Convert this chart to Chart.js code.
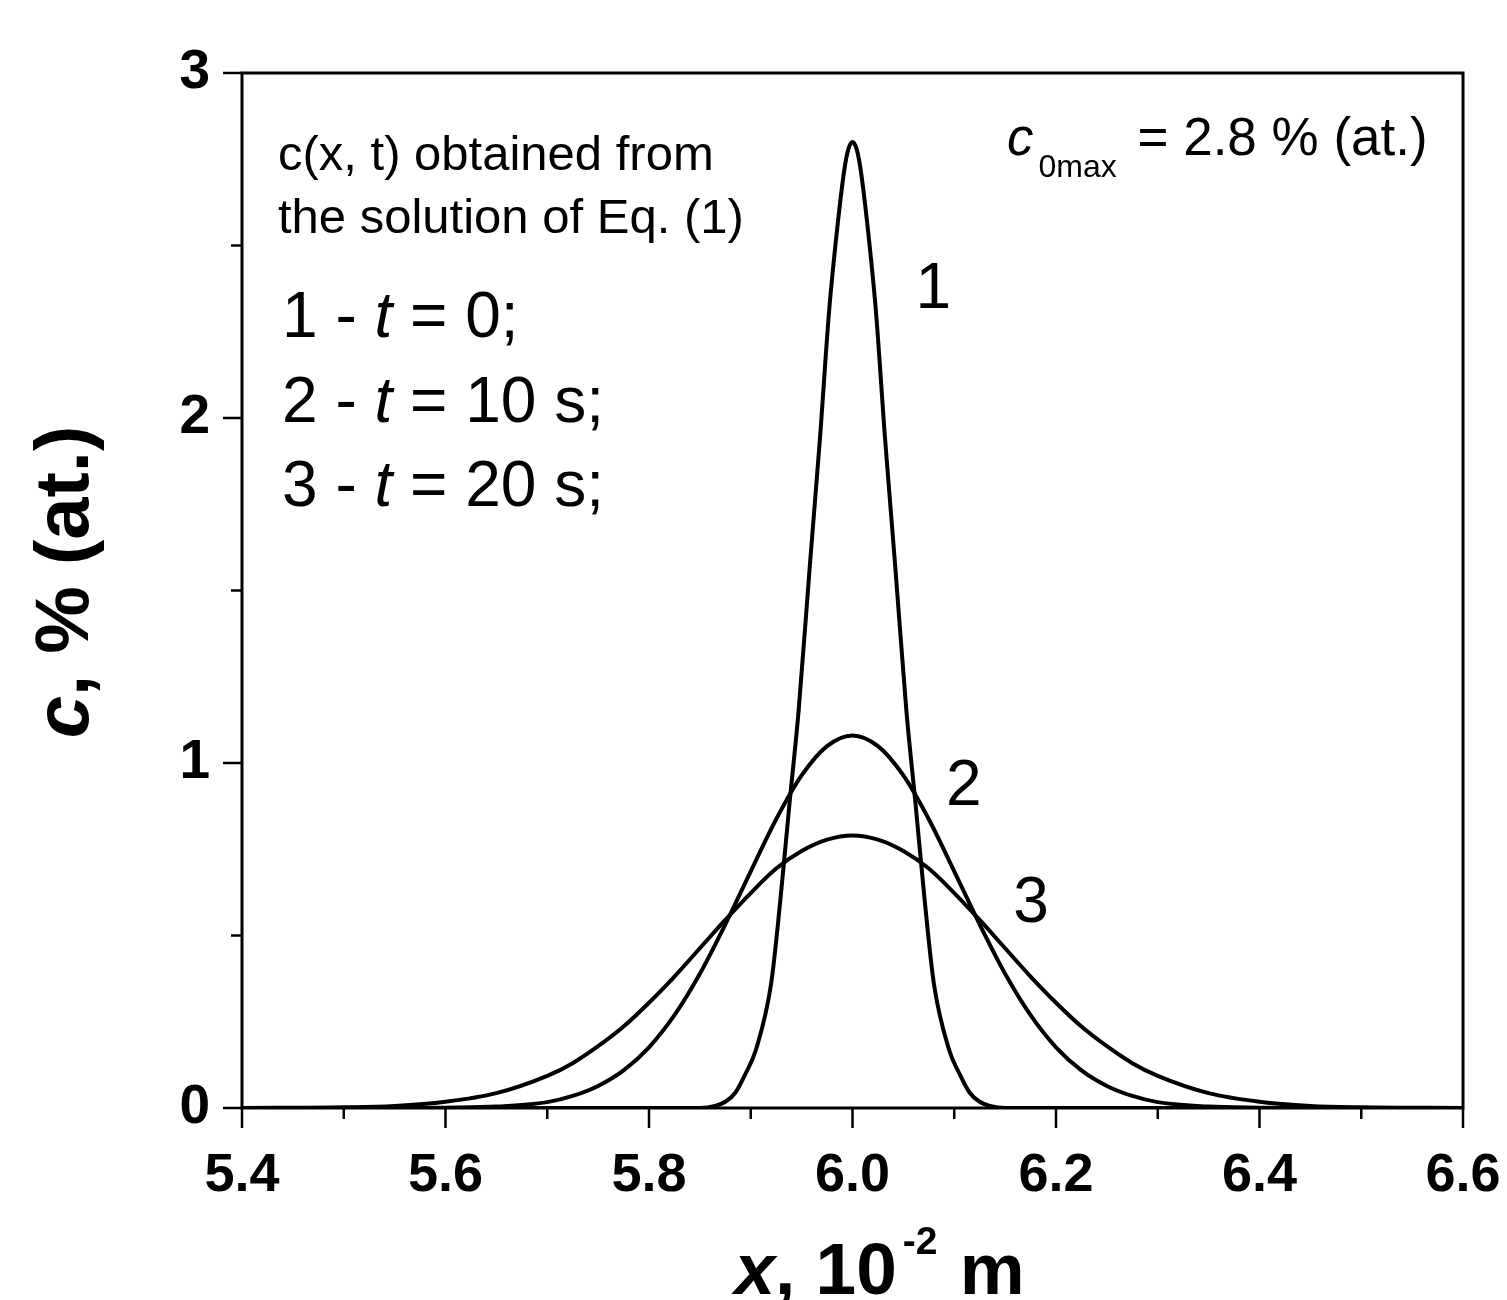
<!DOCTYPE html>
<html>
<head>
<meta charset="utf-8">
<script src="https://cdn.jsdelivr.net/npm/chart.js@4.4.1/dist/chart.umd.min.js"></script>
<style>
  html, body { margin: 0; padding: 0; background: #fff; }
  canvas { display: block; }
</style>
</head>
<body>
<canvas id="profile" width="1507" height="1300"></canvas>
<script>
// x coordinate, 10^-2 m, for the initial narrow profile (curve 1)
const xInitial = [5.40, 5.85, 5.865, 5.875, 5.885, 5.895, 5.905, 5.92, 5.929, 5.938, 5.947, 5.958, 5.968, 5.977, 5.985, 5.992, 5.996,
                  6.00, 6.004, 6.008, 6.015, 6.023, 6.032, 6.042, 6.053, 6.062, 6.071, 6.08, 6.095, 6.105, 6.115, 6.125, 6.135, 6.15, 6.60];
// c, % (at.) at t = 0
const cInitial = [0, 0, 0.006, 0.018, 0.045, 0.10, 0.168, 0.36, 0.60, 0.88, 1.15, 1.57, 1.94, 2.31, 2.55, 2.72, 2.78,
                  2.80, 2.78, 2.72, 2.55, 2.31, 1.94, 1.57, 1.15, 0.88, 0.60, 0.36, 0.168, 0.10, 0.045, 0.018, 0.006, 0, 0];

// x coordinate for the spread profiles (curves 2 and 3)
const xSpread = [5.40, 5.50, 5.55, 5.60, 5.65, 5.70, 5.725, 5.75, 5.775, 5.80, 5.825, 5.85, 5.875, 5.90, 5.925, 5.95, 5.975,
                 6.00, 6.025, 6.05, 6.075, 6.10, 6.125, 6.15, 6.175, 6.20, 6.225, 6.25, 6.275, 6.30, 6.35, 6.40, 6.45, 6.50, 6.60];
// t = 10 s
const c10s = [0, 0, 0, 0.001, 0.004, 0.017, 0.035, 0.064, 0.109, 0.176, 0.269, 0.389, 0.532, 0.686, 0.837, 0.964, 1.049,
              1.08, 1.049, 0.964, 0.837, 0.686, 0.532, 0.389, 0.269, 0.176, 0.109, 0.064, 0.035, 0.017, 0.004, 0.001, 0, 0, 0];
// t = 20 s
const c20s = [0, 0.002, 0.006, 0.018, 0.043, 0.093, 0.13, 0.179, 0.236, 0.305, 0.381, 0.463, 0.545, 0.623, 0.694, 0.745, 0.778,
              0.79, 0.778, 0.745, 0.694, 0.623, 0.545, 0.463, 0.381, 0.305, 0.236, 0.179, 0.13, 0.093, 0.043, 0.018, 0.006, 0.002, 0];

// curve numbers, placed in data coordinates
const curveNames = ['1', '2', '3'];
const curveNameX = [6.062, 6.092, 6.158];
const curveNameC = [2.32, 0.878, 0.539];

const X_MIN = 5.4, X_MAX = 6.6, X_STEP = 0.2;
const C_MIN = 0, C_MAX = 3, C_STEP = 1;

const FONT = '"Liberation Sans", Arial, Helvetica, sans-serif';

function toPoints(xs, cs) {
    return xs.map((x, i) => ({x: x, y: cs[i]}));
}

// draws a row of text pieces with different fonts, left to right
function drawRuns(ctx, x, y, runs) {
    let cx = x;
    runs.forEach(r => {
        ctx.font = r.font;
        ctx.fillText(r.text, cx + (r.dx || 0), y + (r.dy || 0));
        cx += ctx.measureText(r.text).width + (r.dx || 0);
    });
    return cx - x;
}

function runsWidth(ctx, runs) {
    let w = 0;
    runs.forEach(r => {
        ctx.font = r.font;
        w += ctx.measureText(r.text).width + (r.dx || 0);
    });
    return w;
}

// box around the plot plus outward ticks, major and minor
const frameAndTicks = {
    id: 'frameAndTicks',
    afterDatasetsDraw(chart) {
        const {ctx, chartArea: a, scales: {x, y}} = chart;
        ctx.save();
        ctx.strokeStyle = '#000';
        ctx.lineWidth = 3;
        ctx.strokeRect(a.left, a.top, a.right - a.left, a.bottom - a.top);

        ctx.lineWidth = 2.5;
        ctx.beginPath();
        const nx = Math.round((X_MAX - X_MIN) / (X_STEP / 2));
        for (let i = 0; i <= nx; i++) {
            const px = x.getPixelForValue(X_MIN + i * X_STEP / 2);
            const len = i % 2 === 0 ? 20 : 11;
            ctx.moveTo(px, a.bottom);
            ctx.lineTo(px, a.bottom + len);
        }
        const ny = Math.round((C_MAX - C_MIN) / (C_STEP / 2));
        for (let i = 0; i <= ny; i++) {
            const py = y.getPixelForValue(C_MIN + i * C_STEP / 2);
            const len = i % 2 === 0 ? 19 : 11;
            ctx.moveTo(a.left, py);
            ctx.lineTo(a.left - len, py);
        }
        ctx.stroke();
        ctx.restore();
    }
};

const annotations = {
    id: 'annotations',
    afterDraw(chart) {
        const {ctx, chartArea: a, scales: {x, y}} = chart;
        ctx.save();
        ctx.fillStyle = '#000';
        ctx.textBaseline = 'alphabetic';
        ctx.textAlign = 'left';

        // note in the upper left corner
        ctx.font = '49px ' + FONT;
        ctx.fillText('c(x, t) obtained from', a.left + 36, a.top + 97);
        ctx.fillText('the solution of Eq. (1)', a.left + 36, a.top + 160);

        // curve legend
        const reg = '64px ' + FONT, ita = 'italic 64px ' + FONT;
        const legend = [['1 - ', ' = 0;'], ['2 - ', ' = 10 s;'], ['3 - ', ' = 20 s;']];
        legend.forEach((row, i) => {
            drawRuns(ctx, a.left + 40, a.top + 264 + i * 84.5, [
                {text: row[0], font: reg},
                {text: 't', font: ita},
                {text: row[1], font: reg}
            ]);
        });

        // maximum initial concentration
        drawRuns(ctx, a.left + 765, a.top + 82, [
            {text: 'c', font: 'italic 53px ' + FONT},
            {text: '0max', font: '32px ' + FONT, dy: 22, dx: 5},
            {text: ' = 2.8 % (at.)', font: '53px ' + FONT, dx: 6}
        ]);

        // curve numbers
        ctx.font = '64px ' + FONT;
        curveNames.forEach((n, i) => {
            ctx.fillText(n, x.getPixelForValue(curveNameX[i]), y.getPixelForValue(curveNameC[i]));
        });

        // y axis title, rotated
        const yRuns = [
            {text: 'c', font: 'italic bold 76px ' + FONT},
            {text: ', % (at.)', font: 'bold 76px ' + FONT}
        ];
        ctx.save();
        ctx.translate(88, 582);
        ctx.rotate(-Math.PI / 2);
        drawRuns(ctx, -runsWidth(ctx, yRuns) / 2, 0, yRuns);
        ctx.restore();

        // x axis title with superscript
        const xRuns = [
            {text: 'x', font: 'italic bold 73px ' + FONT},
            {text: ', 10', font: 'bold 73px ' + FONT},
            {text: '-2', font: 'bold 39px ' + FONT, dy: -40, dx: 6},
            {text: ' m', font: 'bold 73px ' + FONT, dx: 2}
        ];
        drawRuns(ctx, (a.left + a.right) / 2 + 27 - runsWidth(ctx, xRuns) / 2, 1294, xRuns);

        ctx.restore();
    }
};

const lineStyle = {
    borderColor: '#000',
    borderWidth: 4,
    pointRadius: 0,
    fill: false,
    cubicInterpolationMode: 'monotone'
};

new Chart(document.getElementById('profile'), {
    type: 'line',
    data: {
        datasets: [
            Object.assign({label: '1', data: toPoints(xInitial, cInitial)}, lineStyle),
            Object.assign({label: '2', data: toPoints(xSpread, c10s)}, lineStyle),
            Object.assign({label: '3', data: toPoints(xSpread, c20s)}, lineStyle)
        ]
    },
    options: {
        responsive: false,
        animation: false,
        devicePixelRatio: 1,
        layout: {padding: {left: 0, top: 73, right: 44, bottom: 0}},
        plugins: {
            legend: {display: false},
            tooltip: {enabled: false}
        },
        scales: {
            x: {
                type: 'linear',
                min: X_MIN,
                max: X_MAX,
                grid: {display: false, drawTicks: false},
                border: {display: false},
                afterFit(scale) {
                    scale.height = 192;
                    scale.paddingLeft = 0;
                    scale.paddingRight = 0;
                },
                ticks: {
                    stepSize: X_STEP,
                    padding: 36,
                    color: '#000',
                    font: {family: FONT, size: 54, weight: 'bold'},
                    maxRotation: 0,
                    callback: v => Number(v).toFixed(1)
                }
            },
            y: {
                min: C_MIN,
                max: C_MAX,
                grid: {display: false, drawTicks: false},
                border: {display: false},
                afterFit(scale) {
                    scale.width = 242;
                    scale.paddingTop = 0;
                    scale.paddingBottom = 0;
                },
                ticks: {
                    stepSize: C_STEP,
                    padding: 32,
                    color: '#000',
                    font: {family: FONT, size: 55, weight: 'bold'},
                    callback: v => String(v)
                }
            }
        }
    },
    plugins: [frameAndTicks, annotations]
});
</script>
</body>
</html>
